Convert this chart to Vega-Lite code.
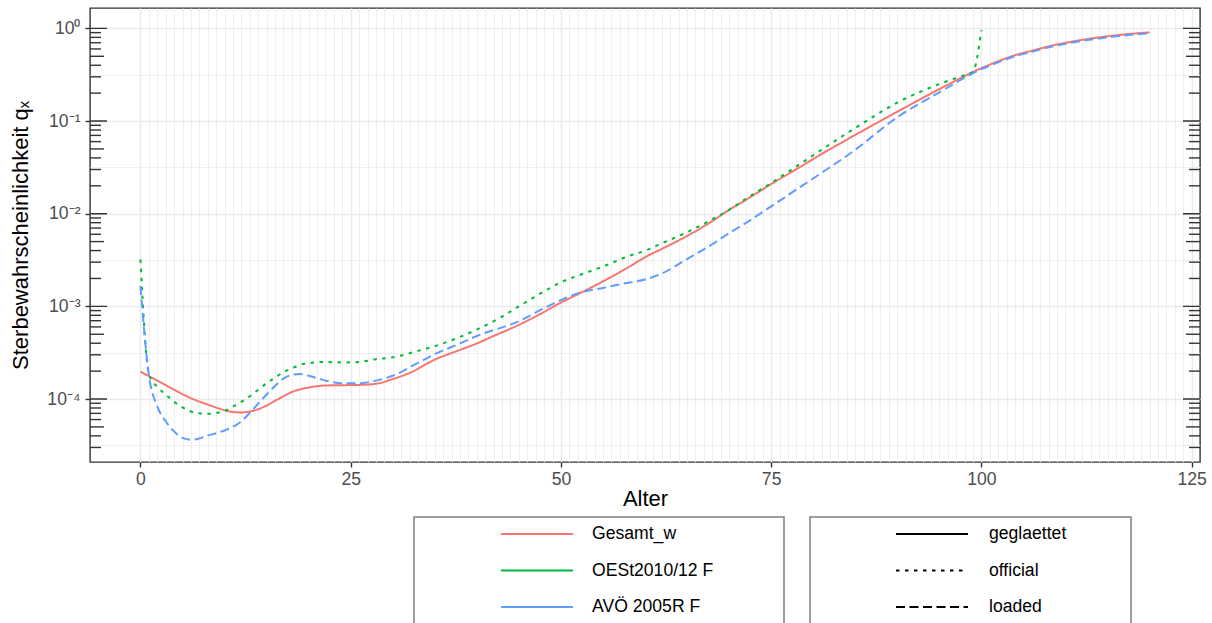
{
  "$schema": "https://vega.github.io/schema/vega-lite/v6.json",
  "width": 1110,
  "height": 454,
  "autosize": {"type": "none"},
  "padding": {"left": 90, "top": 8, "right": 12, "bottom": 161},
  "background": "white",
  "config": {
    "font": "Liberation Sans",
    "view": {"stroke": "#333333", "strokeWidth": 1.4},
    "axis": {"labelFont": "Liberation Sans", "titleFont": "Liberation Sans", "labelColor": "#4d4d4d", "tickColor": "#333333", "tickWidth": 1.4, "gridColor": "#ebebeb", "domain": false, "titleFontWeight": "normal", "titleColor": "black"},
    "legend": {"labelFont": "Liberation Sans", "labelFontSize": 17.6, "labelColor": "black", "strokeColor": "#7f7f7f", "strokeWidth": 1.5, "padding": 8, "clipHeight": 18, "rowPadding": 18.5, "symbolSize": 5184, "symbolStrokeWidth": 2, "symbolType": "stroke", "titleOrient": "right", "direction": "vertical", "orient": "none"}
  },
  "datasets": {
    "logticks": [
      {"v": 0.00003, "kind": "short"}, {"v": 0.00004, "kind": "short"}, {"v": 0.00005, "kind": "mid"}, {"v": 0.00006, "kind": "short"}, {"v": 0.00007, "kind": "short"}, {"v": 0.00008, "kind": "short"}, {"v": 0.00009, "kind": "short"},
      {"v": 0.0001, "kind": "long"}, {"v": 0.0002, "kind": "short"}, {"v": 0.0003, "kind": "short"}, {"v": 0.0004, "kind": "short"}, {"v": 0.0005, "kind": "mid"}, {"v": 0.0006, "kind": "short"}, {"v": 0.0007, "kind": "short"}, {"v": 0.0008, "kind": "short"}, {"v": 0.0009, "kind": "short"},
      {"v": 0.001, "kind": "long"}, {"v": 0.002, "kind": "short"}, {"v": 0.003, "kind": "short"}, {"v": 0.004, "kind": "short"}, {"v": 0.005, "kind": "mid"}, {"v": 0.006, "kind": "short"}, {"v": 0.007, "kind": "short"}, {"v": 0.008, "kind": "short"}, {"v": 0.009, "kind": "short"},
      {"v": 0.01, "kind": "long"}, {"v": 0.02, "kind": "short"}, {"v": 0.03, "kind": "short"}, {"v": 0.04, "kind": "short"}, {"v": 0.05, "kind": "mid"}, {"v": 0.06, "kind": "short"}, {"v": 0.07, "kind": "short"}, {"v": 0.08, "kind": "short"}, {"v": 0.09, "kind": "short"},
      {"v": 0.1, "kind": "long"}, {"v": 0.2, "kind": "short"}, {"v": 0.3, "kind": "short"}, {"v": 0.4, "kind": "short"}, {"v": 0.5, "kind": "mid"}, {"v": 0.6, "kind": "short"}, {"v": 0.7, "kind": "short"}, {"v": 0.8, "kind": "short"}, {"v": 0.9, "kind": "short"},
      {"v": 1, "kind": "long"}
    ]
  },
  "data": {"values": [
    {"age": 0, "qx": 1.97e-4, "table": "Gesamt_w", "type": "geglaettet"},
    {"age": 2, "qx": 1.58e-4, "table": "Gesamt_w", "type": "geglaettet"},
    {"age": 4, "qx": 1.26e-4, "table": "Gesamt_w", "type": "geglaettet"},
    {"age": 6, "qx": 1.02e-4, "table": "Gesamt_w", "type": "geglaettet"},
    {"age": 8, "qx": 8.71e-5, "table": "Gesamt_w", "type": "geglaettet"},
    {"age": 10, "qx": 7.59e-5, "table": "Gesamt_w", "type": "geglaettet"},
    {"age": 11, "qx": 7.24e-5, "table": "Gesamt_w", "type": "geglaettet"},
    {"age": 12, "qx": 7.16e-5, "table": "Gesamt_w", "type": "geglaettet"},
    {"age": 13, "qx": 7.33e-5, "table": "Gesamt_w", "type": "geglaettet"},
    {"age": 14, "qx": 7.76e-5, "table": "Gesamt_w", "type": "geglaettet"},
    {"age": 15, "qx": 8.51e-5, "table": "Gesamt_w", "type": "geglaettet"},
    {"age": 16, "qx": 9.55e-5, "table": "Gesamt_w", "type": "geglaettet"},
    {"age": 17, "qx": 1.07e-4, "table": "Gesamt_w", "type": "geglaettet"},
    {"age": 18, "qx": 1.19e-4, "table": "Gesamt_w", "type": "geglaettet"},
    {"age": 19, "qx": 1.27e-4, "table": "Gesamt_w", "type": "geglaettet"},
    {"age": 20, "qx": 1.33e-4, "table": "Gesamt_w", "type": "geglaettet"},
    {"age": 22, "qx": 1.40e-4, "table": "Gesamt_w", "type": "geglaettet"},
    {"age": 24, "qx": 1.41e-4, "table": "Gesamt_w", "type": "geglaettet"},
    {"age": 26, "qx": 1.42e-4, "table": "Gesamt_w", "type": "geglaettet"},
    {"age": 28, "qx": 1.46e-4, "table": "Gesamt_w", "type": "geglaettet"},
    {"age": 30, "qx": 1.64e-4, "table": "Gesamt_w", "type": "geglaettet"},
    {"age": 32, "qx": 1.91e-4, "table": "Gesamt_w", "type": "geglaettet"},
    {"age": 35, "qx": 2.66e-4, "table": "Gesamt_w", "type": "geglaettet"},
    {"age": 38, "qx": 3.39e-4, "table": "Gesamt_w", "type": "geglaettet"},
    {"age": 40, "qx": 3.98e-4, "table": "Gesamt_w", "type": "geglaettet"},
    {"age": 42, "qx": 4.79e-4, "table": "Gesamt_w", "type": "geglaettet"},
    {"age": 45, "qx": 6.31e-4, "table": "Gesamt_w", "type": "geglaettet"},
    {"age": 48, "qx": 8.71e-4, "table": "Gesamt_w", "type": "geglaettet"},
    {"age": 50, "qx": 1.10e-3, "table": "Gesamt_w", "type": "geglaettet"},
    {"age": 52, "qx": 1.35e-3, "table": "Gesamt_w", "type": "geglaettet"},
    {"age": 55, "qx": 1.86e-3, "table": "Gesamt_w", "type": "geglaettet"},
    {"age": 58, "qx": 2.63e-3, "table": "Gesamt_w", "type": "geglaettet"},
    {"age": 60, "qx": 3.39e-3, "table": "Gesamt_w", "type": "geglaettet"},
    {"age": 62, "qx": 4.17e-3, "table": "Gesamt_w", "type": "geglaettet"},
    {"age": 65, "qx": 5.75e-3, "table": "Gesamt_w", "type": "geglaettet"},
    {"age": 68, "qx": 8.32e-3, "table": "Gesamt_w", "type": "geglaettet"},
    {"age": 70, "qx": 1.10e-2, "table": "Gesamt_w", "type": "geglaettet"},
    {"age": 72, "qx": 1.41e-2, "table": "Gesamt_w", "type": "geglaettet"},
    {"age": 75, "qx": 2.09e-2, "table": "Gesamt_w", "type": "geglaettet"},
    {"age": 78, "qx": 3.02e-2, "table": "Gesamt_w", "type": "geglaettet"},
    {"age": 80, "qx": 3.89e-2, "table": "Gesamt_w", "type": "geglaettet"},
    {"age": 85, "qx": 7.08e-2, "table": "Gesamt_w", "type": "geglaettet"},
    {"age": 90, "qx": 0.126, "table": "Gesamt_w", "type": "geglaettet"},
    {"age": 95, "qx": 0.221, "table": "Gesamt_w", "type": "geglaettet"},
    {"age": 100, "qx": 0.372, "table": "Gesamt_w", "type": "geglaettet"},
    {"age": 102, "qx": 0.442, "table": "Gesamt_w", "type": "geglaettet"},
    {"age": 104, "qx": 0.513, "table": "Gesamt_w", "type": "geglaettet"},
    {"age": 106, "qx": 0.573, "table": "Gesamt_w", "type": "geglaettet"},
    {"age": 108, "qx": 0.640, "table": "Gesamt_w", "type": "geglaettet"},
    {"age": 110, "qx": 0.698, "table": "Gesamt_w", "type": "geglaettet"},
    {"age": 112, "qx": 0.752, "table": "Gesamt_w", "type": "geglaettet"},
    {"age": 114, "qx": 0.800, "table": "Gesamt_w", "type": "geglaettet"},
    {"age": 116, "qx": 0.841, "table": "Gesamt_w", "type": "geglaettet"},
    {"age": 118, "qx": 0.877, "table": "Gesamt_w", "type": "geglaettet"},
    {"age": 120, "qx": 0.906, "table": "Gesamt_w", "type": "geglaettet"},

    {"age": 0, "qx": 3.20e-3, "table": "OESt2010/12 F", "type": "official"},
    {"age": 1, "qx": 1.86e-4, "table": "OESt2010/12 F", "type": "official"},
    {"age": 2, "qx": 1.35e-4, "table": "OESt2010/12 F", "type": "official"},
    {"age": 3, "qx": 1.12e-4, "table": "OESt2010/12 F", "type": "official"},
    {"age": 4, "qx": 9.33e-5, "table": "OESt2010/12 F", "type": "official"},
    {"age": 5, "qx": 8.13e-5, "table": "OESt2010/12 F", "type": "official"},
    {"age": 6, "qx": 7.33e-5, "table": "OESt2010/12 F", "type": "official"},
    {"age": 7, "qx": 7.00e-5, "table": "OESt2010/12 F", "type": "official"},
    {"age": 8, "qx": 6.92e-5, "table": "OESt2010/12 F", "type": "official"},
    {"age": 9, "qx": 7.08e-5, "table": "OESt2010/12 F", "type": "official"},
    {"age": 10, "qx": 7.41e-5, "table": "OESt2010/12 F", "type": "official"},
    {"age": 11, "qx": 8.32e-5, "table": "OESt2010/12 F", "type": "official"},
    {"age": 12, "qx": 9.33e-5, "table": "OESt2010/12 F", "type": "official"},
    {"age": 13, "qx": 1.07e-4, "table": "OESt2010/12 F", "type": "official"},
    {"age": 14, "qx": 1.26e-4, "table": "OESt2010/12 F", "type": "official"},
    {"age": 15, "qx": 1.48e-4, "table": "OESt2010/12 F", "type": "official"},
    {"age": 16, "qx": 1.70e-4, "table": "OESt2010/12 F", "type": "official"},
    {"age": 17, "qx": 1.95e-4, "table": "OESt2010/12 F", "type": "official"},
    {"age": 18, "qx": 2.14e-4, "table": "OESt2010/12 F", "type": "official"},
    {"age": 19, "qx": 2.34e-4, "table": "OESt2010/12 F", "type": "official"},
    {"age": 20, "qx": 2.45e-4, "table": "OESt2010/12 F", "type": "official"},
    {"age": 22, "qx": 2.51e-4, "table": "OESt2010/12 F", "type": "official"},
    {"age": 24, "qx": 2.48e-4, "table": "OESt2010/12 F", "type": "official"},
    {"age": 26, "qx": 2.51e-4, "table": "OESt2010/12 F", "type": "official"},
    {"age": 28, "qx": 2.69e-4, "table": "OESt2010/12 F", "type": "official"},
    {"age": 30, "qx": 2.82e-4, "table": "OESt2010/12 F", "type": "official"},
    {"age": 33, "qx": 3.31e-4, "table": "OESt2010/12 F", "type": "official"},
    {"age": 35, "qx": 3.72e-4, "table": "OESt2010/12 F", "type": "official"},
    {"age": 38, "qx": 4.68e-4, "table": "OESt2010/12 F", "type": "official"},
    {"age": 40, "qx": 5.62e-4, "table": "OESt2010/12 F", "type": "official"},
    {"age": 43, "qx": 7.76e-4, "table": "OESt2010/12 F", "type": "official"},
    {"age": 45, "qx": 1.00e-3, "table": "OESt2010/12 F", "type": "official"},
    {"age": 48, "qx": 1.45e-3, "table": "OESt2010/12 F", "type": "official"},
    {"age": 50, "qx": 1.82e-3, "table": "OESt2010/12 F", "type": "official"},
    {"age": 52, "qx": 2.14e-3, "table": "OESt2010/12 F", "type": "official"},
    {"age": 55, "qx": 2.69e-3, "table": "OESt2010/12 F", "type": "official"},
    {"age": 58, "qx": 3.47e-3, "table": "OESt2010/12 F", "type": "official"},
    {"age": 60, "qx": 3.98e-3, "table": "OESt2010/12 F", "type": "official"},
    {"age": 62, "qx": 4.79e-3, "table": "OESt2010/12 F", "type": "official"},
    {"age": 65, "qx": 6.31e-3, "table": "OESt2010/12 F", "type": "official"},
    {"age": 68, "qx": 8.71e-3, "table": "OESt2010/12 F", "type": "official"},
    {"age": 70, "qx": 1.10e-2, "table": "OESt2010/12 F", "type": "official"},
    {"age": 72, "qx": 1.45e-2, "table": "OESt2010/12 F", "type": "official"},
    {"age": 75, "qx": 2.14e-2, "table": "OESt2010/12 F", "type": "official"},
    {"age": 78, "qx": 3.24e-2, "table": "OESt2010/12 F", "type": "official"},
    {"age": 80, "qx": 4.27e-2, "table": "OESt2010/12 F", "type": "official"},
    {"age": 85, "qx": 8.41e-2, "table": "OESt2010/12 F", "type": "official"},
    {"age": 90, "qx": 0.158, "table": "OESt2010/12 F", "type": "official"},
    {"age": 95, "qx": 0.251, "table": "OESt2010/12 F", "type": "official"},
    {"age": 98, "qx": 0.313, "table": "OESt2010/12 F", "type": "official"},
    {"age": 99, "qx": 0.340, "table": "OESt2010/12 F", "type": "official"},
    {"age": 100, "qx": 0.955, "table": "OESt2010/12 F", "type": "official"},

    {"age": 0, "qx": 1.66e-3, "table": "AVÖ 2005R F", "type": "loaded"},
    {"age": 1, "qx": 1.82e-4, "table": "AVÖ 2005R F", "type": "loaded"},
    {"age": 2, "qx": 8.32e-5, "table": "AVÖ 2005R F", "type": "loaded"},
    {"age": 3, "qx": 5.75e-5, "table": "AVÖ 2005R F", "type": "loaded"},
    {"age": 4, "qx": 4.47e-5, "table": "AVÖ 2005R F", "type": "loaded"},
    {"age": 5, "qx": 3.80e-5, "table": "AVÖ 2005R F", "type": "loaded"},
    {"age": 6, "qx": 3.63e-5, "table": "AVÖ 2005R F", "type": "loaded"},
    {"age": 7, "qx": 3.76e-5, "table": "AVÖ 2005R F", "type": "loaded"},
    {"age": 8, "qx": 4.03e-5, "table": "AVÖ 2005R F", "type": "loaded"},
    {"age": 9, "qx": 4.27e-5, "table": "AVÖ 2005R F", "type": "loaded"},
    {"age": 10, "qx": 4.57e-5, "table": "AVÖ 2005R F", "type": "loaded"},
    {"age": 11, "qx": 5.01e-5, "table": "AVÖ 2005R F", "type": "loaded"},
    {"age": 12, "qx": 5.75e-5, "table": "AVÖ 2005R F", "type": "loaded"},
    {"age": 13, "qx": 7.08e-5, "table": "AVÖ 2005R F", "type": "loaded"},
    {"age": 14, "qx": 8.91e-5, "table": "AVÖ 2005R F", "type": "loaded"},
    {"age": 15, "qx": 1.12e-4, "table": "AVÖ 2005R F", "type": "loaded"},
    {"age": 16, "qx": 1.38e-4, "table": "AVÖ 2005R F", "type": "loaded"},
    {"age": 17, "qx": 1.66e-4, "table": "AVÖ 2005R F", "type": "loaded"},
    {"age": 18, "qx": 1.82e-4, "table": "AVÖ 2005R F", "type": "loaded"},
    {"age": 19, "qx": 1.86e-4, "table": "AVÖ 2005R F", "type": "loaded"},
    {"age": 20, "qx": 1.78e-4, "table": "AVÖ 2005R F", "type": "loaded"},
    {"age": 22, "qx": 1.58e-4, "table": "AVÖ 2005R F", "type": "loaded"},
    {"age": 24, "qx": 1.48e-4, "table": "AVÖ 2005R F", "type": "loaded"},
    {"age": 26, "qx": 1.48e-4, "table": "AVÖ 2005R F", "type": "loaded"},
    {"age": 28, "qx": 1.58e-4, "table": "AVÖ 2005R F", "type": "loaded"},
    {"age": 30, "qx": 1.78e-4, "table": "AVÖ 2005R F", "type": "loaded"},
    {"age": 33, "qx": 2.45e-4, "table": "AVÖ 2005R F", "type": "loaded"},
    {"age": 35, "qx": 3.05e-4, "table": "AVÖ 2005R F", "type": "loaded"},
    {"age": 38, "qx": 3.98e-4, "table": "AVÖ 2005R F", "type": "loaded"},
    {"age": 40, "qx": 4.79e-4, "table": "AVÖ 2005R F", "type": "loaded"},
    {"age": 45, "qx": 6.92e-4, "table": "AVÖ 2005R F", "type": "loaded"},
    {"age": 48, "qx": 9.55e-4, "table": "AVÖ 2005R F", "type": "loaded"},
    {"age": 50, "qx": 1.17e-3, "table": "AVÖ 2005R F", "type": "loaded"},
    {"age": 52, "qx": 1.38e-3, "table": "AVÖ 2005R F", "type": "loaded"},
    {"age": 55, "qx": 1.58e-3, "table": "AVÖ 2005R F", "type": "loaded"},
    {"age": 58, "qx": 1.80e-3, "table": "AVÖ 2005R F", "type": "loaded"},
    {"age": 60, "qx": 1.95e-3, "table": "AVÖ 2005R F", "type": "loaded"},
    {"age": 62, "qx": 2.26e-3, "table": "AVÖ 2005R F", "type": "loaded"},
    {"age": 65, "qx": 3.24e-3, "table": "AVÖ 2005R F", "type": "loaded"},
    {"age": 68, "qx": 4.68e-3, "table": "AVÖ 2005R F", "type": "loaded"},
    {"age": 70, "qx": 6.17e-3, "table": "AVÖ 2005R F", "type": "loaded"},
    {"age": 72, "qx": 7.94e-3, "table": "AVÖ 2005R F", "type": "loaded"},
    {"age": 75, "qx": 1.20e-2, "table": "AVÖ 2005R F", "type": "loaded"},
    {"age": 78, "qx": 1.82e-2, "table": "AVÖ 2005R F", "type": "loaded"},
    {"age": 80, "qx": 2.40e-2, "table": "AVÖ 2005R F", "type": "loaded"},
    {"age": 85, "qx": 4.90e-2, "table": "AVÖ 2005R F", "type": "loaded"},
    {"age": 90, "qx": 0.110, "table": "AVÖ 2005R F", "type": "loaded"},
    {"age": 95, "qx": 0.204, "table": "AVÖ 2005R F", "type": "loaded"},
    {"age": 100, "qx": 0.363, "table": "AVÖ 2005R F", "type": "loaded"},
    {"age": 102, "qx": 0.430, "table": "AVÖ 2005R F", "type": "loaded"},
    {"age": 104, "qx": 0.501, "table": "AVÖ 2005R F", "type": "loaded"},
    {"age": 106, "qx": 0.558, "table": "AVÖ 2005R F", "type": "loaded"},
    {"age": 108, "qx": 0.624, "table": "AVÖ 2005R F", "type": "loaded"},
    {"age": 110, "qx": 0.681, "table": "AVÖ 2005R F", "type": "loaded"},
    {"age": 112, "qx": 0.733, "table": "AVÖ 2005R F", "type": "loaded"},
    {"age": 114, "qx": 0.780, "table": "AVÖ 2005R F", "type": "loaded"},
    {"age": 116, "qx": 0.820, "table": "AVÖ 2005R F", "type": "loaded"},
    {"age": 118, "qx": 0.857, "table": "AVÖ 2005R F", "type": "loaded"},
    {"age": 120, "qx": 0.887, "table": "AVÖ 2005R F", "type": "loaded"}
  ]},
  "resolve": {"axis": {"x": "independent", "y": "independent"}},
  "layer": [
    {
      "mark": {"type": "point", "opacity": 0},
      "encoding": {
        "x": {"field": "age", "type": "quantitative", "scale": {"domain": [-6, 126], "nice": false, "zero": false},
          "axis": {"orient": "bottom", "values": [1,2,3,4,5,6,7,8,9,10,11,12,13,14,15,16,17,18,19,20,21,22,23,24,26,27,28,29,30,31,32,33,34,35,36,37,38,39,40,41,42,43,44,45,46,47,48,49,51,52,53,54,55,56,57,58,59,60,61,62,63,64,65,66,67,68,69,70,71,72,73,74,76,77,78,79,80,81,82,83,84,85,86,87,88,89,90,91,92,93,94,95,96,97,98,99,101,102,103,104,105,106,107,108,109,110,111,112,113,114,115,116,117,118,119,120,121,122,123,124], "grid": true, "gridWidth": 0.8, "labels": false, "ticks": false, "title": null}},
        "y": {"field": "qx", "type": "quantitative", "scale": {"type": "log", "domain": [2.09e-5, 1.66], "nice": false},
          "axis": {"orient": "left", "values": [3.1623e-5, 3.1623e-4, 3.1623e-3, 3.1623e-2, 0.31623], "grid": true, "gridWidth": 0.8, "labels": false, "ticks": false, "title": null}}
      }
    },
    {
      "mark": {"type": "line", "strokeWidth": 2, "interpolate": "monotone"},
      "encoding": {
        "x": {"field": "age", "type": "quantitative",
          "axis": {"orient": "bottom", "values": [0, 25, 50, 75, 100, 125], "grid": true, "gridWidth": 1.5, "tickSize": 5, "labelFontSize": 17.6, "labelPadding": 3, "title": "Alter", "titleFontSize": 22, "titlePadding": 1}},
        "y": {"field": "qx", "type": "quantitative",
          "axis": {"orient": "left", "values": [0.0001, 0.001, 0.01, 0.1, 1], "grid": true, "gridWidth": 1.5, "tickSize": 5, "labelFontSize": 17.6, "labelPadding": 5,
            "labelExpr": "datum.value >= 0.5 ? '10⁰' : datum.value >= 0.05 ? '10⁻¹' : datum.value >= 0.005 ? '10⁻²' : datum.value >= 0.0005 ? '10⁻³' : '10⁻⁴'",
            "title": "Sterbewahrscheinlichkeit qₓ", "titleFontSize": 22, "titlePadding": 14}},
        "color": {"field": "table", "type": "nominal",
          "scale": {"domain": ["Gesamt_w", "OESt2010/12 F", "AVÖ 2005R F"], "range": ["#F8766D", "#00BA38", "#619CFF"]},
          "legend": {"title": " ", "titlePadding": 63, "legendX": 324, "legendY": 509, "symbolOffset": 78, "labelOffset": 18}},
        "strokeDash": {"field": "type", "type": "nominal",
          "scale": {"domain": ["geglaettet", "official", "loaded"], "range": [[1, 0], [3.5, 5.5], [9, 4.5]]},
          "legend": {"title": " ", "titlePadding": 57, "legendX": 720, "legendY": 509, "symbolOffset": 77, "labelOffset": 20, "symbolStrokeColor": "black"}}
      }
    },
    {
      "data": {"name": "logticks"},
      "mark": {"type": "tick", "orient": "horizontal", "thickness": 1.4, "color": "#333333", "opacity": 1, "clip": true},
      "encoding": {
        "x": {"datum": -6, "type": "quantitative", "axis": null},
        "y": {"field": "v", "type": "quantitative", "axis": null},
        "size": {"field": "kind", "type": "ordinal", "scale": {"domain": ["long", "mid", "short"], "range": [34, 22, 12]}, "legend": null}
      }
    },
    {
      "data": {"name": "logticks"},
      "mark": {"type": "tick", "orient": "horizontal", "thickness": 1.4, "color": "#333333", "opacity": 1, "clip": true},
      "encoding": {
        "x": {"datum": 126, "type": "quantitative", "axis": null},
        "y": {"field": "v", "type": "quantitative", "axis": null},
        "size": {"field": "kind", "type": "ordinal", "scale": {"domain": ["long", "mid", "short"], "range": [34, 22, 12]}, "legend": null}
      }
    }
  ]
}
